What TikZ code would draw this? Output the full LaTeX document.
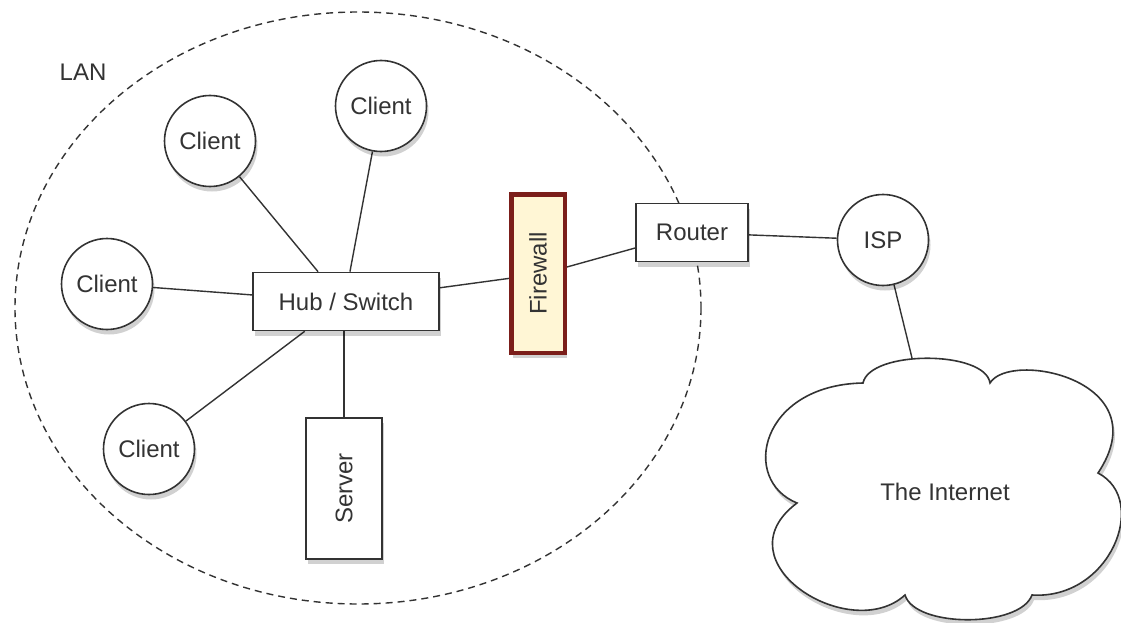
\documentclass[tikz,border=0pt]{standalone}
\usepackage{fontspec}
\setmainfont{Liberation Sans}
\usetikzlibrary{calc,shadows}
\definecolor{ink}{HTML}{333333}
\definecolor{fwborder}{HTML}{7B1E1A}
\definecolor{fwfill}{HTML}{FFF6D5}
\pgfdeclarelayer{bg}
\pgfsetlayers{bg,main}

\begin{document}
\begin{tikzpicture}[x=1pt,y=-1pt,
  font=\fontsize{24}{28}\selectfont,
  every node/.style={text=ink},
  softshadow/.style={drop shadow={fill=black, opacity=0.18,
      shadow xshift=2pt, shadow yshift=-5pt}},
  client/.style={circle, draw=ink, line width=1.6pt, fill=white,
      minimum size=91pt, inner sep=0pt, softshadow},
  box/.style={rectangle, draw=ink, line width=1.6pt, fill=white,
      inner sep=0pt, softshadow},
  firewallbox/.style={rectangle, draw=fwborder, line width=4.5pt, fill=fwfill,
      inner sep=0pt, softshadow},
  link/.style={draw=ink, line width=1.4pt},
  lanline/.style={draw=ink, line width=1.4pt, dash pattern=on 7pt off 5pt}]

  \useasboundingbox (0,0) rectangle (1121,623);

  \begin{pgfonlayer}{bg}
    % canvas
    \fill[white] (0,0) rectangle (1121,623);
    % LAN boundary
    \draw[lanline] (358,308) ellipse [x radius=343, y radius=296];
  \end{pgfonlayer}
  \node (lan) at (83,72) {LAN};

  % devices
  \node[box, minimum width=186pt, minimum height=58pt] (hub) at (346,301.5) {Hub / Switch};
  \node[box, minimum width=76pt, minimum height=141pt] (server) at (344,488.5) {\rotatebox{90}{Server}};
  \node[firewallbox, minimum width=53.5pt, minimum height=158.5pt] (firewall) at (538,273.5) {\rotatebox{90}{Firewall}};
  \node[box, minimum width=112pt, minimum height=58pt] (router) at (692,232.5) {Router};

  \node[client] (c1) at (210,141) {Client};
  \node[client] (c2) at (381,106) {Client};
  \node[client] (c3) at (107,284) {Client};
  \node[client] (c4) at (149,449) {Client};
  \node[client] (isp) at (883,240) {ISP};

  % the Internet cloud
  \path[draw=ink, line width=1.6pt, fill=white, softshadow]
    (797,503) .. controls (740,480) and (760,385) .. (863,383)
    .. controls (870,350) and (985,350) .. (990,383)
    .. controls (1010,350) and (1160,380) .. (1098,473)
    .. controls (1150,500) and (1110,600) .. (1032,595)
    .. controls (1020,628) and (915,628) .. (905,595)
    .. controls (850,645) and (718,562) .. (797,503) -- cycle;
  \coordinate (cloudtop) at (912,358);
  \node (inet) at (945,492) {The Internet};

  % connections
  \begin{pgfonlayer}{bg}
    \draw[link] (c1) -- ($(hub.north west)!0.351!(hub.north east)$);
    \draw[link] (c2) -- ($(hub.north west)!0.521!(hub.north east)$);
    \draw[link] (c3) -- ($(hub.north west)!0.39!(hub.south west)$);
    \draw[link] (c4) -- ($(hub.south west)!0.28!(hub.south east)$);
    \draw[link] (server.north |- hub.south) -- (server.north);
    \draw[link] ($(hub.north east)!0.27!(hub.south east)$)
             -- ($(firewall.north west)!0.53!(firewall.south west)$);
    \draw[link] ($(firewall.north east)!0.46!(firewall.south east)$)
             -- ($(router.north west)!0.76!(router.south west)$);
    \draw[link] ($(router.north east)!0.54!(router.south east)$) -- (isp);
    \draw[link] (isp) -- (cloudtop);
  \end{pgfonlayer}
\end{tikzpicture}
\end{document}
